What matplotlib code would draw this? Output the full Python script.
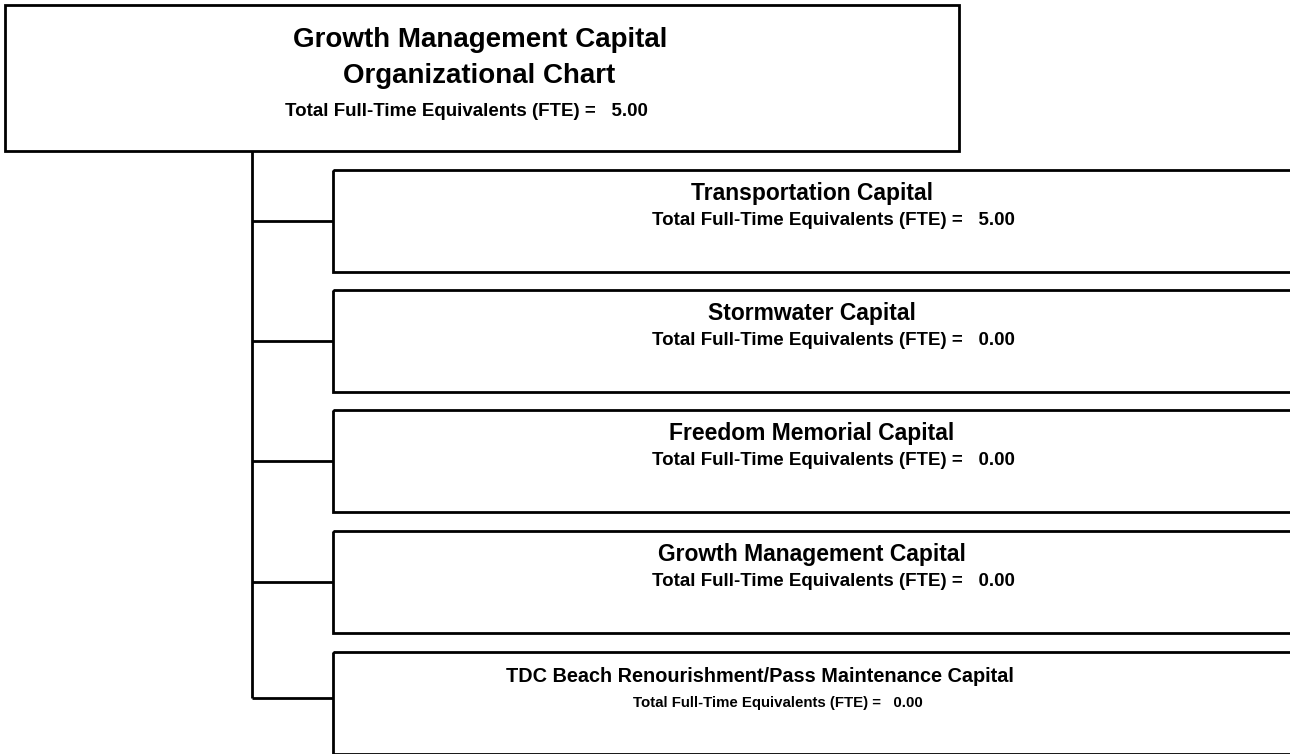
import matplotlib.pyplot as plt
from matplotlib.patches import Rectangle

# Chart data
top_title = ['Growth Management Capital', 'Organizational Chart']
top_fte = 5.00
units = ['Transportation Capital',
         'Stormwater Capital',
         'Freedom Memorial Capital',
         'Growth Management Capital',
         'TDC Beach Renourishment/Pass Maintenance Capital']
unit_fte = [5.00, 0.00, 0.00, 0.00, 0.00]

plt.rcParams['font.family'] = ['Liberation Sans', 'DejaVu Sans']

fig = plt.figure(figsize=(12.9, 7.54), dpi=100)
ax = fig.add_axes([0, 0, 1, 1])
ax.set_xlim(0, 1290)
ax.set_ylim(754, 0)
ax.axis('off')

lw = 2.0

# Top box
ax.add_patch(Rectangle((5, 5), 954, 146, fill=False, lw=lw, ec='black'))
ax.text(480, 47, top_title[0], ha='center', va='baseline', fontsize=20, fontweight='bold')
ax.text(479, 83, top_title[1], ha='center', va='baseline', fontsize=20, fontweight='bold')
ax.text(466, 116, 'Total Full-Time Equivalents (FTE) =   %.2f' % top_fte,
        ha='center', va='baseline', fontsize=13.5, fontweight='bold')

# Connector spine
spine_x = 252
box_x = 333
box_w = 1000
box_h = 102
box_tops = [170, 290, 410, 531, 652]
ax.plot([spine_x, spine_x], [151, 698], color='black', lw=lw, solid_capstyle='butt')

for i, (name, fte) in enumerate(zip(units, unit_fte)):
    top = box_tops[i]
    ax.add_patch(Rectangle((box_x, top), box_w, box_h, fill=False, lw=lw, ec='black'))
    mid = top + box_h / 2 if i < len(units) - 1 else 698
    ax.plot([spine_x, box_x], [mid, mid], color='black', lw=lw, solid_capstyle='butt')
    if i == len(units) - 1:
        # last box text is squeezed narrower in the original
        tx, fx, ts, fs = 760, 778, 14.3, 10.8
    else:
        tx, fx, ts, fs = 812, 833, 16.5, 13.5
    ax.text(tx, top + 30, name, ha='center', va='baseline', fontsize=ts,
            fontweight='bold')
    ax.text(fx, top + 55, 'Total Full-Time Equivalents (FTE) =   %.2f' % fte,
            ha='center', va='baseline', fontsize=fs, fontweight='bold')

fig.savefig('out.png', dpi=100, facecolor='white')
